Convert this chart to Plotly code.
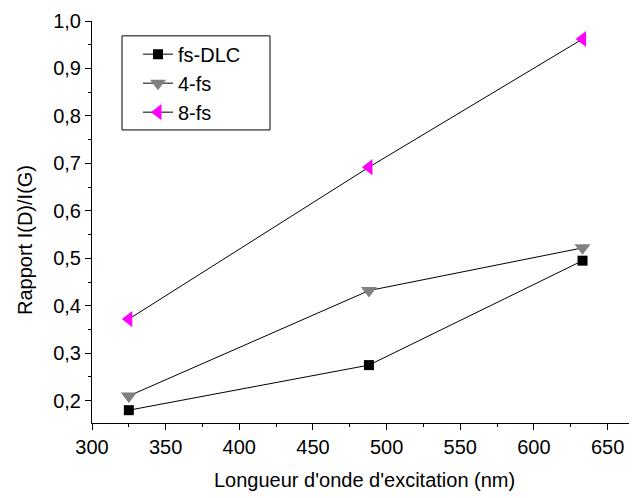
import plotly.graph_objects as go

wavelengths = [325, 488, 633]
fs_dlc = [0.18, 0.275, 0.495]
four_fs = [0.21, 0.432, 0.522]
eight_fs = [0.372, 0.692, 0.962]

x_ticks = [300, 350, 400, 450, 500, 550, 600, 650]
y_ticks = [0.2, 0.3, 0.4, 0.5, 0.6, 0.7, 0.8, 0.9, 1.0]

series = [
    ("fs-DLC", fs_dlc, "square", "#000000", 10),
    ("4-fs", four_fs, "triangle-down", "#808080", 14),
    ("8-fs", eight_fs, "triangle-left", "#ff00ff", 14),
]

fig = go.Figure()
for name, vals, sym, col, sz in series:
    fig.add_trace(go.Scatter(
        x=wavelengths, y=vals, name=name, mode="lines+markers",
        line=dict(color="black", width=1),
        marker=dict(symbol=sym, color=col, size=sz, line=dict(width=0)),
    ))

# page body has an 8px offset; margins compensate so the plot lands where the reference has it
# plot width 553 px; legend box/annotations positioned relative to it
PW = 553.0
font = dict(family="Liberation Sans, Arial, sans-serif", size=20, color="black")
fig.update_layout(
    width=637, height=498,
    margin=dict(l=84, r=0, t=13, b=83),
    paper_bgcolor="white", plot_bgcolor="white",
    font=font,
    separators=",.",
    showlegend=True,
    legend=dict(x=46 / PW, y=0.966, xanchor="left", yanchor="top",
                borderwidth=0, bgcolor="rgba(0,0,0,0)",
                font=dict(size=20), tracegroupgap=0, itemwidth=30),
    shapes=[dict(type="rect", xref="paper", yref="paper",
                 x0=30 / PW, x1=178 / PW, y0=0.729, y1=0.963,
                 line=dict(color="black", width=1), fillcolor="rgba(0,0,0,0)", layer="below")],
    annotations=[
        dict(text="Longueur d'onde d'excitation (nm)", xref="paper", yref="paper",
             x=272.5 / PW, y=0, yshift=-57, xanchor="center", yanchor="middle",
             showarrow=False, font=dict(size=20)),
        dict(text="Rapport I(D)/I(G)", xref="paper", yref="paper",
             x=0, y=0.5, xshift=-67, yshift=-18, xanchor="center", yanchor="middle",
             textangle=-90, showarrow=False, font=dict(size=20)),
    ],
    xaxis=dict(
        range=[300, 675.4], tickvals=x_ticks, showgrid=False, zeroline=False,
        showline=True, linecolor="black", linewidth=1, automargin=False,
        ticks="outside", ticklen=6, tickcolor="black",
        minor=dict(ticks="outside", ticklen=3, dtick=25, tick0=300, tickcolor="black", showgrid=False),
        tickfont=dict(size=20),
    ),
    yaxis=dict(
        range=[0.153, 1.0], tickvals=y_ticks, tickformat=".1f", showgrid=False, zeroline=False,
        showline=True, linecolor="black", linewidth=1, automargin=False,
        ticks="outside", ticklen=6, tickcolor="black",
        minor=dict(ticks="outside", ticklen=3, dtick=0.05, tick0=0.2, tickcolor="black", showgrid=False),
        tickfont=dict(size=20),
    ),
)
fig.write_html("out.html")
